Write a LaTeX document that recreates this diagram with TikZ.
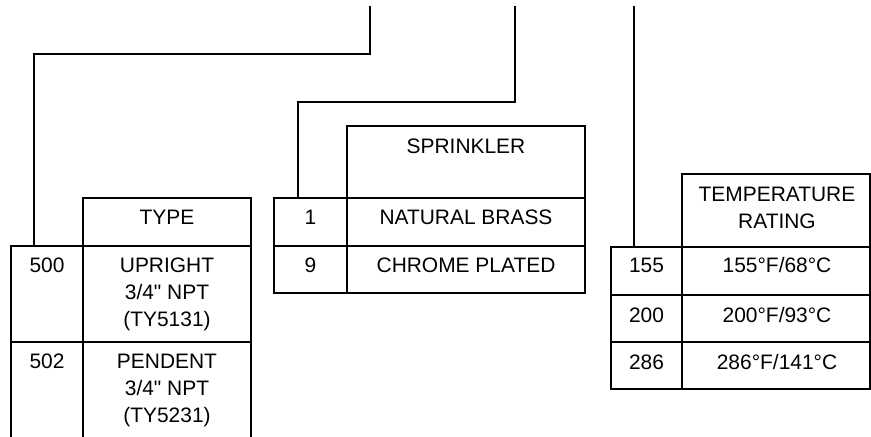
\documentclass[tikz,border=0pt]{standalone}
\usepackage{fontspec}
\setmainfont{Liberation Sans}[Ligatures=TeXOff]
\usetikzlibrary{fit,calc}
\tikzset{
  cell/.style={draw, line width=1.5pt, inner sep=0pt, outer sep=0pt, rectangle},
  txt/.style={inner sep=0pt, anchor=base, font=\fontsize{15.7}{20}\selectfont},
  conn/.style={draw, line width=1.5pt, line cap=rect, line join=miter}
}
\begin{document}
\begin{tikzpicture}[x=0.75pt,y=-0.75pt]
\useasboundingbox (0,0) rectangle (871,436);
\clip (0,0) rectangle (871,436);
% TYPE table
\node[cell, fit={(83,198) (251,246)}] (hType) {};
\node[cell, fit={(11,246) (83,342)}] (n500) {};
\node[cell, fit={(83,246) (251,342)}] (d500) {};
\node[cell, fit={(11,342) (83,450)}] (n502) {};
\node[cell, fit={(83,342) (251,450)}] (d502) {};
\node[txt] (tType) at (167,224) {TYPE};
\node[txt] (t500) at (47,272) {500};
\node[txt] (t500a) at (167,272) {UPRIGHT};
\node[txt] (t500b) at (167,299) {3/4" NPT};
\node[txt] (t500c) at (167,326) {(TY5131)};
\node[txt] (t502) at (47,368) {502};
\node[txt] (t502a) at (167,368) {PENDENT};
\node[txt] (t502b) at (167,395) {3/4" NPT};
\node[txt] (t502c) at (167,422) {(TY5231)};
% SPRINKLER table
\node[cell, fit={(347,126) (585,198)}] (hSpr) {};
\node[cell, fit={(274,198) (347,246)}] (n1) {};
\node[cell, fit={(347,198) (585,246)}] (d1) {};
\node[cell, fit={(274,246) (347,293)}] (n9) {};
\node[cell, fit={(347,246) (585,293)}] (d9) {};
\node[txt] (tSpr) at (466,153) {SPRINKLER};
\node[txt] (t1) at (310.5,224) {1};
\node[txt] (t1a) at (466,224) {NATURAL BRASS};
\node[txt] (t9) at (310.5,272) {9};
\node[txt] (t9a) at (466,272) {CHROME PLATED};
% TEMPERATURE table
\node[cell, fit={(682,174) (870,247)}] (hTemp) {};
\node[cell, fit={(611,247) (682,295)}] (n155) {};
\node[cell, fit={(682,247) (870,295)}] (d155) {};
\node[cell, fit={(611,295) (682,342)}] (n200) {};
\node[cell, fit={(682,295) (870,342)}] (d200) {};
\node[cell, fit={(611,342) (682,389)}] (n286) {};
\node[cell, fit={(682,342) (870,389)}] (d286) {};
\node[txt] (tTempa) at (777,201) {TEMPERATURE};
\node[txt] (tTempb) at (777,228) {RATING};
\node[txt] (t155) at (646.5,272) {155};
\node[txt] (t155a) at (777,272) {155°F/68°C};
\node[txt] (t200) at (646.5,322) {200};
\node[txt] (t200a) at (777,322) {200°F/93°C};
\node[txt] (t286) at (646.5,369.5) {286};
\node[txt] (t286a) at (777,369.5) {286°F/141°C};
% connectors
\coordinate (top1) at (370,7);
\coordinate (top2) at (515,7);
\coordinate (top3) at (634,7);
\draw[conn] (top1) -- ++(0,47) -| ($(n500.north)+(-13,0)$);
\draw[conn] (top2) -- ++(0,95) -| ($(n1.north)+(-12.5,0)$);
\draw[conn] (top3) -- ($(n155.north)+(-12.5,0)$);
\end{tikzpicture}
\end{document}
